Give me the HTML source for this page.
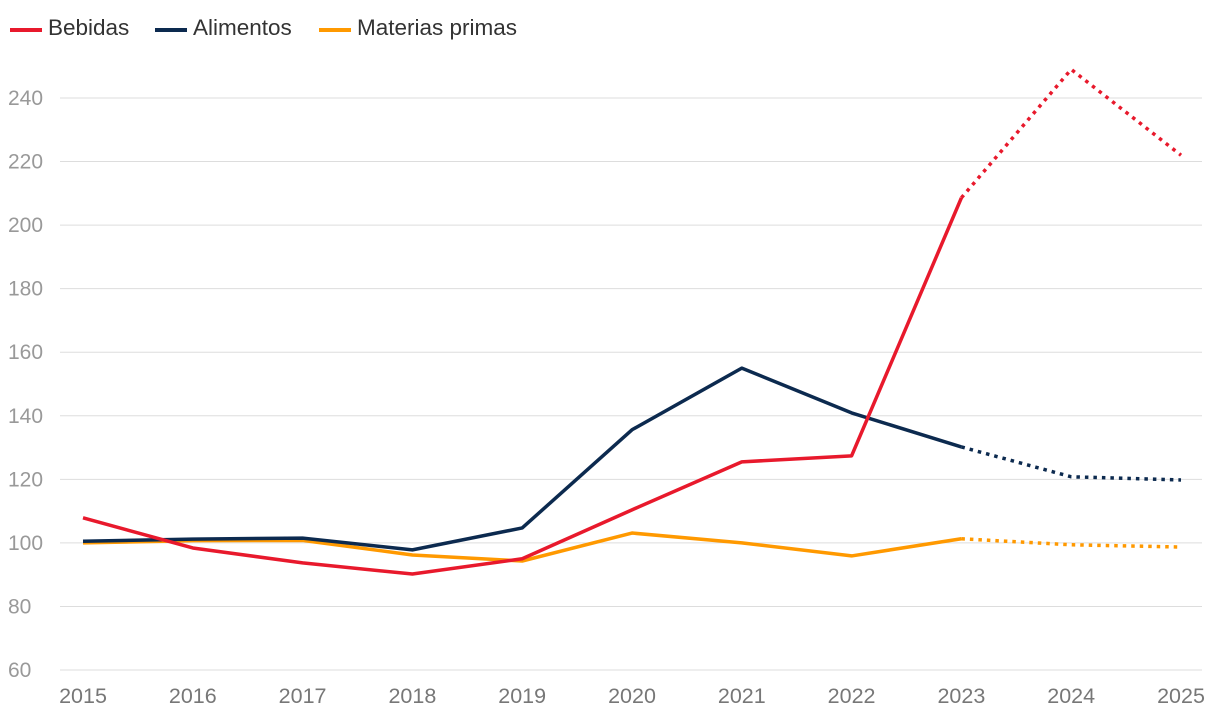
<!DOCTYPE html>
<html><head><meta charset="utf-8">
<style>
html,body{margin:0;padding:0;background:#fff;}
body{width:1220px;height:716px;overflow:hidden;font-family:"Liberation Sans",Arial,sans-serif;}
</style></head>
<body>
<svg id="chart" width="1220" height="716" xmlns="http://www.w3.org/2000/svg"></svg>
<script>
const years=[2015,2016,2017,2018,2019,2020,2021,2022,2023,2024,2025];
const bebidas=[107.9,98.4,93.7,90.2,95,110.4,125.5,127.4,208.6,249,222];
const alimentos=[100.5,101.2,101.5,97.8,104.7,135.6,155,140.9,130.2,120.8,119.8];
const materias=[100,100.7,100.8,96.2,94.3,103.1,100,95.9,101.3,99.4,98.7];
const yTicks=[60,80,100,120,140,160,180,200,220,240];
const solidUntil=2023;
const NS="http://www.w3.org/2000/svg";
const svg=document.getElementById('chart');
const xS=y=>83+(y-2015)*(1181-83)/10;
const yS=v=>670-(v-60)*(670-98)/180;
function mk(tag,attrs){const e=document.createElementNS(NS,tag);for(const k in attrs)e.setAttribute(k,attrs[k]);svg.appendChild(e);return e;}
yTicks.forEach(t=>{
  const l=mk('line',{x1:60,x2:1202,y1:yS(t),y2:yS(t),stroke:'#dddddd','stroke-width':1});
  
  
  const tx=mk('text',{x:8,y:yS(t)+7,fill:'#999','font-size':21});
  tx.textContent=t;
  
  
});
years.forEach(y=>{
  const tx=mk('text',{x:xS(y),y:703,fill:'#777','font-size':21.5,'text-anchor':'middle'});
  tx.textContent=y;
  
  
});
function series(vals,color,name){
  const si=years.indexOf(solidUntil);
  const solid=vals.slice(0,si+1).map((v,i)=>xS(years[i])+','+yS(v)).join(' ');
  const dot=vals.slice(si).map((v,i)=>xS(years[si+i])+','+yS(v)).join(' ');
  const a=mk('polyline',{points:solid,fill:'none',stroke:color,'stroke-width':3.5,'stroke-linejoin':'round'});
  
  
  const b=mk('polyline',{points:dot,fill:'none',stroke:color,'stroke-width':3.5,'stroke-dasharray':'3.5 5'});
  
  
}
series(materias,'#ff9900','materias-primas');
series(alimentos,'#0c2a4f','alimentos');
series(bebidas,'#e8192c','bebidas');
const legend=[['Bebidas','#e8192c',10],['Alimentos','#0c2a4f',155],['Materias primas','#ff9900',319]];
legend.forEach(([t,c,x])=>{
  const l=mk('line',{x1:x,x2:x+32,y1:30,y2:30,stroke:c,'stroke-width':4});
  
  
  const tx=mk('text',{x:x+38,y:35,fill:'#333','font-size':22.5});
  tx.textContent=t;
  
  
});
</script>
</body></html>
